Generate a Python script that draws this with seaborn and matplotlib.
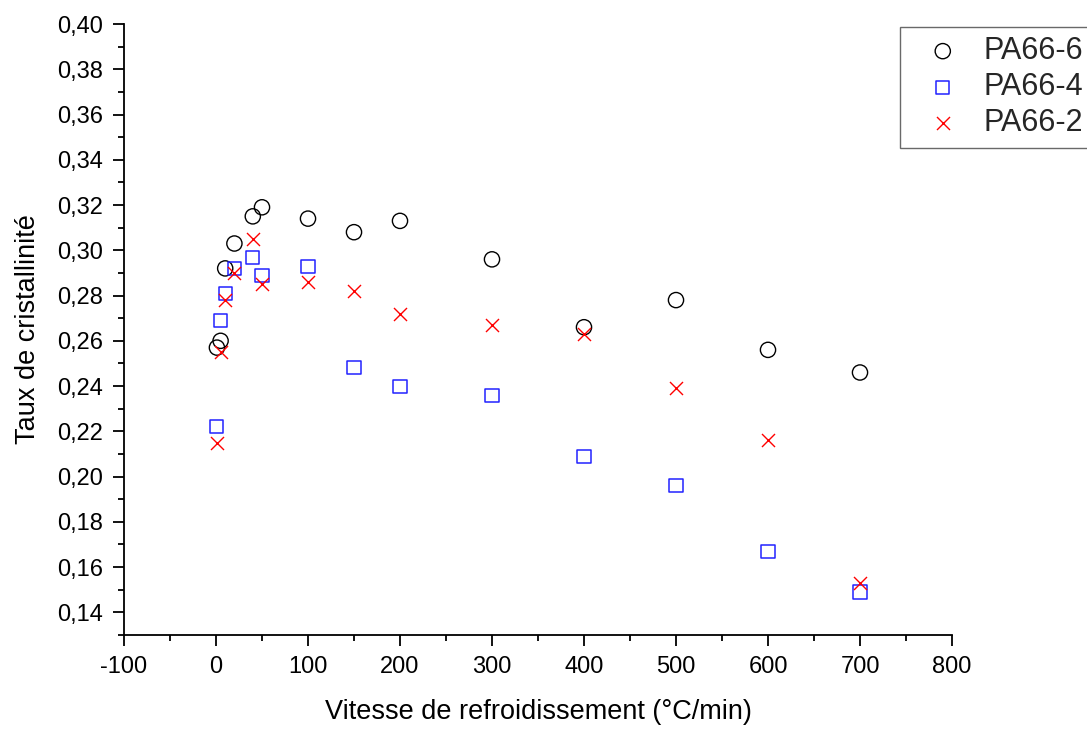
import numpy as np
import pandas as pd
import matplotlib
matplotlib.use("Agg")
import matplotlib.pyplot as plt
import seaborn as sns
from matplotlib.ticker import MultipleLocator, FixedLocator, FixedFormatter

# ---------------- data ----------------
rate = [1, 5, 10, 20, 40, 50, 100, 150, 200, 300, 400, 500, 600, 700]
pa66_6 = [0.257, 0.260, 0.292, 0.303, 0.315, 0.319, 0.314, 0.308, 0.313, 0.296, 0.266, 0.278, 0.256, 0.246]
pa66_4 = [0.222, 0.269, 0.281, 0.292, 0.297, 0.289, 0.293, 0.248, 0.240, 0.236, 0.209, 0.196, 0.167, 0.149]
pa66_2 = [0.215, 0.255, 0.278, 0.290, 0.305, 0.285, 0.286, 0.282, 0.272, 0.267, 0.263, 0.239, 0.216, 0.153]
series_names = ["PA66-6", "PA66-4", "PA66-2"]
x_ticks = [-100, 0, 100, 200, 300, 400, 500, 600, 700, 800]
y_ticks = [0.14, 0.16, 0.18, 0.20, 0.22, 0.24, 0.26, 0.28, 0.30, 0.32, 0.34, 0.36, 0.38, 0.40]
y_tick_labels = ["0,14", "0,16", "0,18", "0,20", "0,22", "0,24", "0,26", "0,28",
                 "0,30", "0,32", "0,34", "0,36", "0,38", "0,40"]
x_label = "Vitesse de refroidissement (°C/min)"
y_label = "Taux de cristallinité"

sns.set_style("ticks")
plt.rcParams["font.family"] = ["Liberation Sans", "DejaVu Sans"]
plt.rcParams["axes.unicode_minus"] = False

fig = plt.figure(figsize=(10.87, 7.29), dpi=100)
ax = fig.add_axes([124 / 1087, 1 - 635 / 729, (952 - 124) / 1087, (635 - 24) / 729])

df6 = pd.DataFrame({"x": rate, "y": pa66_6})
df4 = pd.DataFrame({"x": rate, "y": pa66_4})
df2 = pd.DataFrame({"x": rate, "y": pa66_2})

sns.scatterplot(data=df6, x="x", y="y", ax=ax, marker="o", s=120, color="black",
                facecolors="none", edgecolor="black", linewidth=1.0, label=series_names[0], zorder=3)
sns.scatterplot(data=df4, x="x", y="y", ax=ax, marker="s", s=88, color="#2222ff",
                facecolors="none", edgecolor="#2222ff", linewidth=1.1, label=series_names[1], zorder=3)
sns.scatterplot(data=df2, x="x", y="y", ax=ax, marker="x", s=88, color="red",
                linewidth=1.0, label=series_names[2], zorder=3)

ax.set_xlim(-100, 800)
ax.set_ylim(0.13, 0.40)
ax.xaxis.set_major_locator(FixedLocator(x_ticks))
ax.xaxis.set_minor_locator(MultipleLocator(50))
ax.yaxis.set_major_locator(FixedLocator(y_ticks))
ax.yaxis.set_major_formatter(FixedFormatter(y_tick_labels))
ax.yaxis.set_minor_locator(MultipleLocator(0.01))

for side in ["top", "right"]:
    ax.spines[side].set_visible(False)
for side in ["left", "bottom"]:
    ax.spines[side].set_linewidth(1.3)
    ax.spines[side].set_color("black")

ax.tick_params(axis="both", which="major", direction="out", length=8, width=1.3,
               labelsize=17, color="black", labelcolor="black")
ax.tick_params(axis="both", which="minor", direction="out", length=4, width=1.3, color="black")
ax.tick_params(axis="x", which="major", pad=7)
ax.tick_params(axis="y", which="major", pad=7)

ax.set_xlabel(x_label, fontsize=19.5, labelpad=15, color="black")
ax.set_ylabel(y_label, fontsize=19.5, labelpad=12, color="black")

if ax.legend_:
    ax.legend_.remove()
handles, labels = ax.get_legend_handles_labels()
leg = fig.legend(handles, labels, loc="upper left",
                 bbox_to_anchor=(900 / 1087, 1 - 27 / 729), bbox_transform=fig.transFigure,
                 fontsize=22, frameon=True, fancybox=False, borderpad=0.3,
                 labelspacing=0.2, handlelength=2.2, handletextpad=0.22, borderaxespad=0)
leg.get_frame().set_edgecolor("#444444")
leg.get_frame().set_linewidth(1.0)

fig.savefig("out.png", dpi=100)
